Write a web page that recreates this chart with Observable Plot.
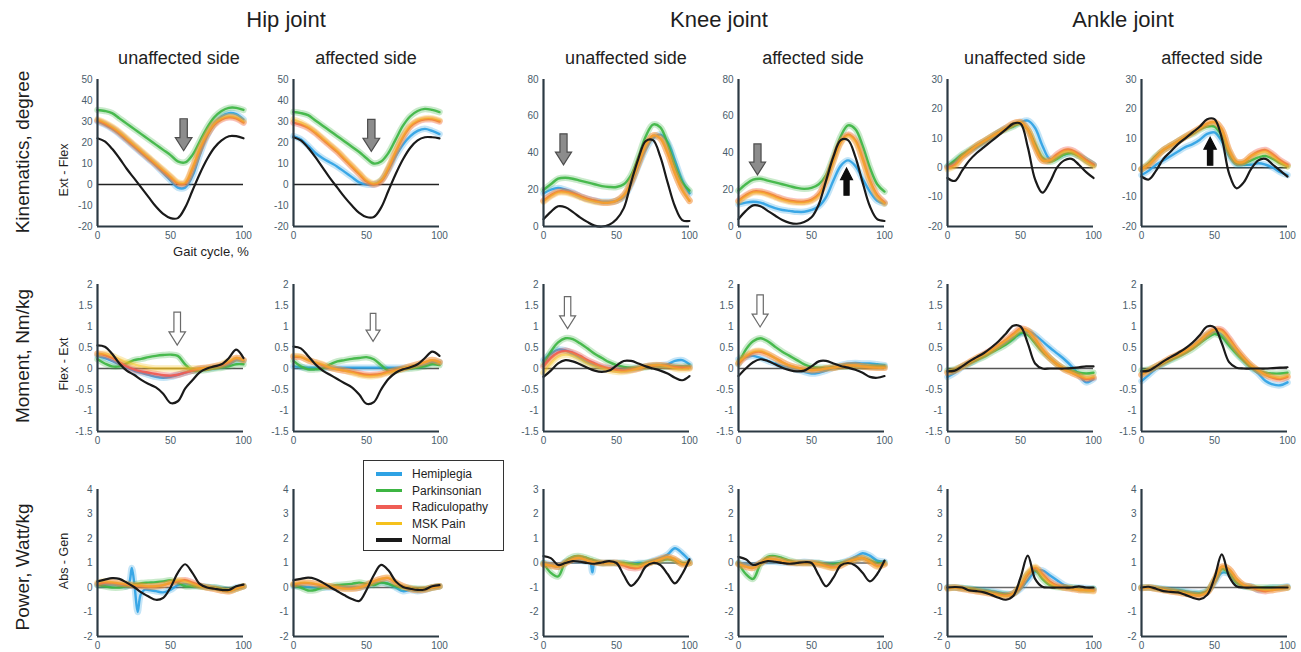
<!DOCTYPE html>
<html><head><meta charset="utf-8">
<script src="https://cdn.jsdelivr.net/npm/d3@7"></script>
<script src="https://cdn.jsdelivr.net/npm/@observablehq/plot@0.6"></script>
<style>
body{margin:0;background:#fff;}
#root{position:relative;width:1301px;height:652px;overflow:hidden;font-family:"Liberation Sans",Arial,sans-serif;color:#1e1e1e;background:#fff;}
.t{position:absolute;white-space:nowrap;line-height:1;transform:translate(-50%,-50%);}
.r{transform:translate(-50%,-50%) rotate(-90deg);}
.p{position:absolute;}
.lg{position:absolute;left:363px;top:460px;width:139px;height:89px;border:1.5px solid #333;background:#fff;}
.lr{position:absolute;left:12px;font-size:12px;line-height:1;white-space:nowrap;}
.ls{position:absolute;left:0;width:26px;height:3.5px;top:4px;}
.lt{position:absolute;left:36px;top:0;}
</style></head><body><div id="root"></div>
<script>
// ---------------- data ----------------
const SERIES = ["Hemiplegia", "Parkinsonian", "Radiculopathy", "MSK Pain", "Normal"];
const X = [0,5,10,15,20,25,30,35,40,45,50,55,60,65,70,75,80,85,90,95,100]; // gait cycle, %
const X_HIP_PWR_U_HEMI = [0,5,10,15,20,22,23.5,25.5,27.5,29.5,32,35,40,45,50,55,60,65,70,75,80,85,90,95,100];
const X_KNEE_PWR_U_HEMI = [0,5,10,15,20,25,30,32,33.5,35,40,45,50,55,60,65,70,75,80,85,90,95,100];
const X_TICKS = [0, 50, 100];

// series order: Hemiplegia, Parkinsonian, Radiculopathy, MSK Pain, Normal
const hipKinU = [
  [30,28.5,26.5,24,21,18,15,12,9,5.5,2,-1.5,-1.5,4,14,23,29,32.5,34,33.5,31],
  [35.5,35,34,31.5,29,26.5,24,21.5,19,16.5,14,11,10.5,14,20.5,27,32,35,36.5,36.5,35.5],
  [30.5,29,27,24.5,21.5,18.5,15.5,12.5,9.5,6.5,3.5,0.5,0.5,7.5,16.5,23.5,28.5,31,32,31.5,29.5],
  [31,29.5,27.5,25,22,19,16,13,10,7,4,1,1,8,17,24,29,31.5,32.5,32,30],
  [22,20.5,17,12.5,7.5,3,-1.5,-6,-10.5,-14,-16,-16,-11,-3,5,12,17.5,21,23,23,22]
];
const hipKinA = [
  [23,21.5,18.5,15,12.5,10.5,8.5,6,3.5,1,0,0,2,7,13.5,19,23,25.5,26.5,25.5,24],
  [34.5,34,33,30.5,28,25.5,23,20.5,18,15.5,12.5,10,11,15,21.5,28,32.5,35,36,35.5,34.5],
  [29.5,28.5,27,24.5,21.5,18.5,15.5,12,8.5,5,1.5,0,1.5,7.5,15.5,22.5,27.5,30,31,31,30],
  [31,29.5,27.5,25,22,19,16,12.5,9,5.5,2,0.5,2,8,16,23,28,30.5,31.5,31.5,30.5],
  [22.5,21,17.5,13,8,3,-1.5,-6,-10,-13.5,-15.5,-15.5,-11,-3,5,12,17.5,21,22.5,22.5,22]
];
const kneeKinU = [
  [18,20,21,20,18.5,16.5,15,14,13.5,13.5,14,16,23,33,42,48,50,46,36,25,18],
  [20,23,26,26.5,26,25,24,23,22,21.5,21.5,23,28,38,49,55.5,54,45,33,24,19.5],
  [14,17,19,19,18,16.5,15,14,13,13,14,17,24,34,44,49.5,48,40,29,20,14],
  [13.5,16.5,18.5,18.5,17.5,16,14.5,13.5,13,13,14,17,24,34,44,49.5,48,40,29,20,14],
  [4,8,11,10.5,8,5,2.5,0.5,0,1,4,10,24,37,46.5,47,38,24,11,3.5,3]
];
const kneeKinA = [
  [12,13,13.5,13,11.5,10,9,8.5,8,8,9,11,16,25,33,36,33,26,19,14,12.5],
  [19.5,23,25.5,26,25,24,23,22,21,20.5,21,23,28,38,49,55,53,44,32,23,19],
  [14,17,19,19,18,16.5,15,14,13.5,13.5,14.5,17.5,25,36,46,50,47,37,25,17,13],
  [13.5,16.5,18.5,18.5,17.5,16,14.5,13.5,13,13,14,17,24.5,35.5,45.5,49.5,46.5,36.5,24.5,16.5,12.5],
  [4,8.5,11.5,11,8.5,6,3.5,2,1.5,2.5,5,12,25,38,47,47,38,24,11,4,3]
];
const ankleKinU = [
  [0.5,2,4,5.5,7,8.5,10,12,13.5,14.5,15.5,16,13.5,7.5,3,3.5,4.5,5,4,2.5,1],
  [0.5,2.5,4.5,6,7.5,9,10.5,12,13,14,15,13,8,3.5,2,3,4.5,5,4,2.5,1],
  [0,1,3.5,5.5,7.5,9,10.5,12,13.5,15,15.5,13,7,2.5,2.5,4.5,6,6,4.5,2.5,1],
  [-0.5,0.5,3.5,5.5,7.5,9,10.5,12,13.5,15,15.5,13,7,2.5,2.5,4,5.5,5.5,4,2,0.5],
  [-3.5,-4.5,-1,2.5,5,7,9,11,13,15,15,7,-4,-8.5,-5,0,2.5,3,1,-1.5,-3.5]
];
const ankleKinA = [
  [-2.5,-1,1,2.5,4,5.5,7,8,9.5,11.5,12,9,4,1,1,1,1.5,1,0,-1.5,-2.5],
  [-0.5,1.5,4,6,7.5,9,10.5,11.5,13,14,14,11,5,1.5,1.5,2.5,3.5,4,3,1.5,0.5],
  [-0.5,1,3.5,6,7.5,9,10.5,12,13.5,15,15.5,13,6,2,2,4,5.5,6,4.5,2.5,1],
  [-0.5,1,3.5,6,7.5,9,10.5,12,13.5,15,15.5,13,6,2,2,4,5,5.5,4,2,0.5],
  [-3,-4,-1,3,5.5,8,10,12,14,16.5,16.5,10,-2,-7,-5,-0.5,2.5,3,1,-1,-3]
];
const hipMomU = [
  [0.3,0.25,0.18,0.1,0.02,-0.05,-0.1,-0.15,-0.2,-0.22,-0.2,-0.15,-0.1,-0.05,-0.02,0,0.02,0.05,0.1,0.2,0.18],
  [0.22,0.12,0.05,0.05,0.12,0.2,0.23,0.27,0.3,0.32,0.33,0.3,0.1,-0.05,-0.05,-0.03,0,0.02,0.05,0.1,0.1],
  [0.35,0.32,0.25,0.15,0.05,-0.02,-0.07,-0.1,-0.13,-0.16,-0.17,-0.15,-0.1,-0.05,0,0.02,0.05,0.08,0.15,0.25,0.2],
  [0.35,0.35,0.3,0.22,0.15,0.1,0.05,0.02,0,0,0,0,0,0,0,0.02,0.05,0.1,0.18,0.25,0.2],
  [0.55,0.52,0.35,0.12,-0.05,-0.15,-0.27,-0.37,-0.45,-0.6,-0.82,-0.78,-0.48,-0.28,-0.09,0,0.05,0.1,0.25,0.45,0.25]
];
const hipMomA = [
  [0.05,0.03,0.02,0.02,0.02,0.02,0.02,0.02,0.02,0.02,0.02,0.02,0.02,0.02,0.02,0.02,0.03,0.05,0.08,0.15,0.15],
  [0.18,0.05,-0.02,-0.02,0,0.1,0.17,0.2,0.23,0.25,0.27,0.22,0.08,-0.05,-0.05,-0.02,0,0.02,0.05,0.1,0.08],
  [0.28,0.27,0.2,0.14,0.08,0.02,-0.02,-0.05,-0.08,-0.12,-0.15,-0.15,-0.13,-0.08,-0.04,0,0.05,0.1,0.15,0.2,0.15],
  [0.3,0.28,0.2,0.15,0.1,0.02,-0.02,-0.05,-0.1,-0.15,-0.18,-0.18,-0.15,-0.1,-0.05,0,0.05,0.1,0.15,0.2,0.15],
  [0.52,0.48,0.3,0.1,-0.05,-0.15,-0.25,-0.35,-0.45,-0.62,-0.84,-0.8,-0.5,-0.25,-0.1,-0.02,0.03,0.1,0.25,0.4,0.3]
];
const kneeMomU = [
  [0.2,0.35,0.45,0.43,0.35,0.25,0.15,0.08,0.02,0,-0.02,-0.03,-0.02,0.02,0.05,0.07,0.08,0.1,0.18,0.2,0.1],
  [0.1,0.4,0.62,0.72,0.7,0.6,0.48,0.35,0.25,0.15,0.08,0.04,0.02,0.02,0.03,0.05,0.05,0.05,0.05,0.05,0.05],
  [0.05,0.25,0.38,0.42,0.38,0.3,0.2,0.12,0.05,0,-0.03,-0.05,-0.03,0,0.05,0.07,0.08,0.06,0.03,0.02,0.02],
  [-0.1,0.12,0.28,0.33,0.3,0.22,0.12,0.05,0,-0.05,-0.08,-0.08,-0.05,0,0.05,0.08,0.08,0.05,0,-0.02,0],
  [-0.2,-0.05,0.12,0.2,0.17,0.1,0.02,-0.05,-0.08,-0.05,0.07,0.18,0.18,0.12,0.05,0,-0.05,-0.12,-0.22,-0.28,-0.18]
];
const kneeMomA = [
  [0.22,0.27,0.3,0.25,0.18,0.12,0.06,0.02,-0.03,-0.08,-0.12,-0.1,-0.05,0.02,0.08,0.12,0.13,0.12,0.12,0.1,0.08],
  [0.1,0.45,0.65,0.72,0.65,0.52,0.4,0.3,0.2,0.1,0.04,0.02,0.02,0.03,0.04,0.05,0.05,0.05,0.05,0.05,0.05],
  [0.12,0.28,0.38,0.4,0.34,0.25,0.15,0.07,0.02,-0.02,-0.04,-0.03,0,0.02,0.05,0.07,0.07,0.05,0.03,0.02,0.02],
  [0.15,0.3,0.4,0.42,0.35,0.25,0.15,0.07,0.02,-0.02,-0.04,-0.03,0,0.02,0.05,0.07,0.07,0.05,0.03,0.02,0.02],
  [-0.18,0,0.15,0.22,0.18,0.1,0.02,-0.04,-0.07,-0.05,0.05,0.17,0.18,0.12,0.06,0.02,-0.03,-0.1,-0.2,-0.22,-0.18]
];
const ankleMomU = [
  [-0.2,-0.1,0.03,0.12,0.22,0.32,0.42,0.52,0.62,0.73,0.82,0.88,0.8,0.65,0.5,0.36,0.22,0.05,-0.15,-0.33,-0.25],
  [-0.05,-0.02,0.05,0.12,0.2,0.28,0.38,0.47,0.57,0.7,0.85,0.8,0.6,0.4,0.25,0.1,0,-0.05,-0.1,-0.12,-0.1],
  [-0.1,-0.05,0.05,0.15,0.25,0.34,0.44,0.56,0.68,0.82,0.95,0.9,0.7,0.45,0.25,0.1,-0.02,-0.1,-0.18,-0.25,-0.22],
  [-0.1,-0.05,0.05,0.15,0.25,0.33,0.43,0.55,0.67,0.8,0.93,0.9,0.7,0.45,0.25,0.1,-0.02,-0.1,-0.17,-0.22,-0.2],
  [-0.07,-0.05,0.05,0.17,0.27,0.37,0.5,0.65,0.83,1.02,1.0,0.6,0.12,0,0,0,0,0.01,0.03,0.05,0.05]
];
const ankleMomA = [
  [-0.3,-0.15,0,0.12,0.22,0.32,0.42,0.55,0.67,0.8,0.88,0.8,0.6,0.4,0.2,0.02,-0.12,-0.3,-0.38,-0.4,-0.33],
  [-0.05,-0.02,0.05,0.12,0.2,0.28,0.37,0.47,0.6,0.73,0.82,0.75,0.55,0.35,0.18,0.03,-0.05,-0.1,-0.12,-0.12,-0.1],
  [-0.15,-0.05,0.05,0.15,0.25,0.33,0.42,0.53,0.67,0.82,0.93,0.92,0.72,0.47,0.26,0.08,-0.05,-0.15,-0.22,-0.25,-0.2],
  [-0.15,-0.05,0.05,0.15,0.25,0.33,0.42,0.53,0.67,0.82,0.92,0.88,0.68,0.45,0.25,0.08,-0.05,-0.15,-0.2,-0.22,-0.18],
  [-0.07,-0.05,0.05,0.17,0.27,0.37,0.48,0.62,0.8,1.0,0.98,0.6,0.15,0.02,0,0,0,0,0.01,0.02,0.03]
];
const hipPwrU = [
  [0.1,0.12,0.12,0.1,0.05,0.25,0.8,0,-1.0,-0.3,-0.1,-0.1,-0.15,-0.2,-0.1,0.1,0.15,0.1,0.05,0.02,0,-0.05,-0.1,0,0.05],
  [0.1,0.05,0,0,0.05,0.12,0.18,0.2,0.22,0.25,0.3,0.2,0.05,0.05,0.05,0.02,0,-0.05,-0.1,-0.05,0.05],
  [0.15,0.2,0.2,0.16,0.12,0.08,0.06,0.04,0.05,0.1,0.18,0.25,0.3,0.2,0.08,0,-0.05,-0.12,-0.15,-0.05,0.05],
  [0.2,0.25,0.22,0.18,0.15,0.1,0.08,0.05,0.05,0.1,0.2,0.3,0.25,0.15,0.05,0,-0.05,-0.12,-0.15,-0.05,0.05],
  [0.25,0.32,0.38,0.35,0.2,0.02,-0.2,-0.37,-0.5,-0.42,0,0.6,0.95,0.6,0.15,0,-0.05,-0.1,-0.1,0.05,0.12]
];
const hipPwrA = [
  [0.05,0.05,0.02,0,0,0,0,0,0,0,0.05,0.15,0.2,0.15,0,-0.15,-0.1,-0.15,-0.1,0,0.05],
  [0.1,0,-0.12,-0.1,0,0.05,0.1,0.12,0.15,0.2,0.15,0.1,0.2,0.15,0.05,0,-0.02,-0.05,-0.05,0,0.05],
  [0.12,0.18,0.18,0.14,0.08,0.04,0,-0.04,-0.04,0,0.1,0.25,0.35,0.38,0.2,0.05,-0.05,-0.1,-0.08,0,0.05],
  [0.15,0.2,0.2,0.15,0.1,0.05,0,-0.05,-0.05,0,0.1,0.25,0.35,0.4,0.2,0.05,-0.05,-0.1,-0.08,0,0.05],
  [0.3,0.35,0.4,0.35,0.2,0.02,-0.15,-0.32,-0.47,-0.55,-0.1,0.5,0.92,0.7,0.25,0.02,-0.05,-0.1,-0.08,0.05,0.1]
];
const kneePwrU = [
  [0,-0.05,-0.15,0.05,0.1,0.1,0.05,0.02,-0.38,0,0,0.02,0,0,-0.05,0,0,0.1,0.2,0.35,0.6,0.4,0.1],
  [0,-0.4,-0.55,0.05,0.25,0.28,0.2,0.1,0,0,0,0,-0.05,-0.05,0,0.05,0.1,0.15,0.1,0,0],
  [-0.05,-0.1,-0.15,0,0.15,0.2,0.1,0.02,0,0,0,-0.1,-0.2,-0.2,-0.05,0.05,0.15,0.25,0.15,-0.05,0],
  [-0.05,-0.1,-0.15,0,0.15,0.2,0.1,0.02,0,0,0,-0.05,-0.1,-0.15,-0.05,0.05,0.15,0.25,0.15,-0.05,0],
  [0.28,0.2,-0.08,0,0.08,0.05,0,-0.03,0.02,0.08,0,-0.5,-0.93,-0.65,-0.15,0,-0.08,-0.45,-0.83,-0.45,0.15]
];
const kneePwrA = [
  [0,-0.05,-0.1,0,0.05,0.05,0.02,0,0,0.05,0.02,0,-0.05,-0.05,0,0.1,0.25,0.4,0.3,0.1,0.05],
  [0,-0.45,-0.65,-0.05,0.25,0.28,0.2,0.1,0.02,0,0,0,-0.05,-0.05,0,0.05,0.15,0.2,0.1,0,0],
  [-0.05,-0.15,-0.2,0,0.15,0.15,0.08,0.02,0,0,0,-0.05,-0.12,-0.18,-0.1,0.05,0.15,0.2,0.05,-0.12,-0.05],
  [-0.05,-0.15,-0.2,0,0.15,0.15,0.08,0.02,0,0,0,-0.05,-0.15,-0.2,-0.1,0.05,0.15,0.2,0.05,-0.15,-0.05],
  [0.25,0.15,-0.08,0,0.08,0.05,0,-0.03,0,0.03,0,-0.5,-0.95,-0.6,-0.1,0,-0.1,-0.4,-0.75,-0.45,0.1]
];
const anklePwrU = [
  [0,0,-0.02,-0.05,-0.08,-0.1,-0.15,-0.2,-0.25,-0.25,-0.05,0.3,0.65,0.7,0.5,0.3,0.1,0,0,-0.02,-0.05],
  [0,0,-0.02,-0.05,-0.1,-0.15,-0.2,-0.25,-0.28,-0.25,0.05,0.55,0.7,0.35,0.1,0.02,0,0,-0.05,-0.1,-0.05],
  [-0.02,0,-0.05,-0.1,-0.15,-0.2,-0.25,-0.3,-0.33,-0.25,0.05,0.55,0.8,0.55,0.25,0.08,0,-0.05,-0.1,-0.1,-0.12],
  [-0.05,0,-0.05,-0.1,-0.15,-0.2,-0.25,-0.32,-0.35,-0.25,0.1,0.6,0.85,0.5,0.2,0.05,0,-0.05,-0.1,-0.12,-0.15],
  [0,0.02,0,-0.12,-0.15,-0.2,-0.3,-0.42,-0.5,-0.35,0.4,1.3,0.35,0.03,0,0,0,0,0.05,0,0]
];
const anklePwrA = [
  [0,0,-0.02,-0.05,-0.08,-0.1,-0.15,-0.2,-0.22,-0.15,0.2,0.6,0.55,0.2,0.05,0.05,-0.1,-0.05,0,0,0.05],
  [0,0,-0.03,-0.08,-0.12,-0.15,-0.2,-0.25,-0.25,-0.15,0.3,0.75,0.6,0.2,0.05,0,0,0,0,0,0],
  [-0.02,0,-0.05,-0.1,-0.15,-0.2,-0.25,-0.3,-0.32,-0.2,0.3,0.85,0.75,0.35,0.1,0.02,-0.1,-0.15,-0.1,-0.05,0],
  [-0.02,0,-0.05,-0.1,-0.15,-0.2,-0.25,-0.3,-0.32,-0.2,0.3,0.85,0.75,0.35,0.1,0.02,-0.05,-0.1,-0.1,-0.05,0],
  [0,0.03,-0.05,-0.15,-0.18,-0.2,-0.3,-0.42,-0.48,-0.3,0.4,1.35,0.45,0.05,0,0,0,0,0,0,0]
];

// y ticks
const HIP_KIN_T = [-20,-10,0,10,20,30,40,50];
const KNEE_KIN_T = [0,20,40,60,80];
const ANKLE_KIN_T = [-20,-10,0,10,20,30];
const MOM_T = [-1.5,-1,-0.5,0,0.5,1,1.5,2];
const HIP_PWR_T = [-2,-1,0,1,2,3,4];
const KNEE_PWR_T = [-3,-2,-1,0,1,2,3];
const ANKLE_PWR_T = [-2,-1,0,1,2,3,4];

// annotation arrows (gait %, value)
const ARROWS = [
  {panel:"hipKinU", x:59, y:23.7, r:16, kind:"gray"},
  {panel:"hipKinA", x:53.3, y:23.4, r:16, kind:"gray"},
  {panel:"kneeKinU", x:13.7, y:42, r:15.5, kind:"gray"},
  {panel:"kneeKinA", x:13, y:36.5, r:15.5, kind:"gray"},
  {panel:"kneeKinA", x:74, y:24.4, r:13.5, kind:"black"},
  {panel:"ankleKinA", x:47, y:5.6, r:14, kind:"black"},
  {panel:"hipMomU", x:54.6, y:0.95, r:16.5, kind:"hollow"},
  {panel:"hipMomA", x:54.5, y:0.98, r:14, kind:"hollow"},
  {panel:"kneeMomU", x:16.5, y:1.33, r:16, kind:"hollow"},
  {panel:"kneeMomA", x:14.8, y:1.37, r:16, kind:"hollow"}
];

// ---------------- style / layout ----------------
const COLORS = ["#2ea2e4", "#3db543", "#ef5d55", "#f5c11c", "#1a1a1a"];
const LINE_OP = [0.92, 0.92, 0.95, 0.5, 1];
const BAND_OP = [0.28, 0.28, 0.38, 0.3, 0];
const AXIS_C = "#2c3a44";
const COLS = [97, 293, 543, 738, 947, 1141];
const ROWS = [79, 284, 489];
const PW = 146, PH = 147, ML = 40, MR = 12, MT = 10, MB = 24;

function blockArrow(dir, sw, hw, hb) {
  return { draw(ctx, size) {
    const h = Math.sqrt(size / Math.PI), s = dir;
    ctx.moveTo(-sw*h, -s*h); ctx.lineTo(sw*h, -s*h); ctx.lineTo(sw*h, s*hb*h);
    ctx.lineTo(hw*h, s*hb*h); ctx.lineTo(0, s*h); ctx.lineTo(-hw*h, s*hb*h);
    ctx.lineTo(-sw*h, s*hb*h); ctx.closePath();
  }};
}
const SYM = { gray: blockArrow(1, 0.23, 0.52, 0.18), hollow: blockArrow(1, 0.2, 0.5, 0.2), black: blockArrow(-1, 0.19, 0.44, 0.15) };
const FILL = { gray: "#8c8c8c", hollow: "#ffffff", black: "#0d0d0d" };
const STROKE = { gray: "#4d4d4d", hollow: "#6a6a6a", black: "#0d0d0d" };

const PANELS = [
  {key:"hipKinU", data:hipKinU, c:0, r:0, y:[-20,50], t:HIP_KIN_T, zero:"#222"},
  {key:"hipKinA", data:hipKinA, c:1, r:0, y:[-20,50], t:HIP_KIN_T, zero:"#222"},
  {key:"kneeKinU", data:kneeKinU, c:2, r:0, y:[0,80], t:KNEE_KIN_T, zero:null},
  {key:"kneeKinA", data:kneeKinA, c:3, r:0, y:[0,80], t:KNEE_KIN_T, zero:null},
  {key:"ankleKinU", data:ankleKinU, c:4, r:0, y:[-20,30], t:ANKLE_KIN_T, zero:"#333"},
  {key:"ankleKinA", data:ankleKinA, c:5, r:0, y:[-20,30], t:ANKLE_KIN_T, zero:"#333"},
  {key:"hipMomU", data:hipMomU, c:0, r:1, y:[-1.5,2], t:MOM_T, zero:"#555"},
  {key:"hipMomA", data:hipMomA, c:1, r:1, y:[-1.5,2], t:MOM_T, zero:"#555"},
  {key:"kneeMomU", data:kneeMomU, c:2, r:1, y:[-1.5,2], t:MOM_T, zero:"#555"},
  {key:"kneeMomA", data:kneeMomA, c:3, r:1, y:[-1.5,2], t:MOM_T, zero:"#555"},
  {key:"ankleMomU", data:ankleMomU, c:4, r:1, y:[-1.5,2], t:MOM_T, zero:"#555"},
  {key:"ankleMomA", data:ankleMomA, c:5, r:1, y:[-1.5,2], t:MOM_T, zero:"#555"},
  {key:"hipPwrU", data:hipPwrU, c:0, r:2, y:[-2,4], t:HIP_PWR_T, zero:"#666", xs:[X_HIP_PWR_U_HEMI]},
  {key:"hipPwrA", data:hipPwrA, c:1, r:2, y:[-2,4], t:HIP_PWR_T, zero:"#666"},
  {key:"kneePwrU", data:kneePwrU, c:2, r:2, y:[-3,3], t:KNEE_PWR_T, zero:"#666", xs:[X_KNEE_PWR_U_HEMI]},
  {key:"kneePwrA", data:kneePwrA, c:3, r:2, y:[-3,3], t:KNEE_PWR_T, zero:"#666"},
  {key:"anklePwrU", data:anklePwrU, c:4, r:2, y:[-2,4], t:ANKLE_PWR_T, zero:"#666"},
  {key:"anklePwrA", data:anklePwrA, c:5, r:2, y:[-2,4], t:ANKLE_PWR_T, zero:"#666"}
];

function panelPlot(p) {
  const rows = [];
  p.data.forEach((vals, i) => {
    const xs = (p.xs && p.xs[i]) || X;
    vals.forEach((v, j) => rows.push({x: xs[j], y: v, s: SERIES[i]}));
  });
  const marks = [];
  if (p.zero) marks.push(Plot.ruleY([0], {stroke: p.zero, strokeWidth: 1.4}));
  SERIES.forEach((name, i) => {
    const d = rows.filter(r => r.s === name);
    if (BAND_OP[i] > 0) marks.push(Plot.line(d, {x: "x", y: "y", stroke: COLORS[i], strokeWidth: 6.5, strokeOpacity: BAND_OP[i], curve: "catmull-rom"}));
    marks.push(Plot.line(d, {x: "x", y: "y", stroke: COLORS[i], strokeWidth: i === 4 ? 2.2 : 2.4, strokeOpacity: LINE_OP[i], curve: "catmull-rom"}));
  });
  marks.push(Plot.ruleX([0], {stroke: AXIS_C, strokeWidth: 2.2}));
  marks.push(Plot.ruleY([p.y[0]], {stroke: AXIS_C, strokeWidth: 2.2}));
  ARROWS.filter(a => a.panel === p.key).forEach(a => {
    marks.push(Plot.dot([a], {x: "x", y: "y", r: a.r, symbol: SYM[a.kind], fill: FILL[a.kind], stroke: STROKE[a.kind], strokeWidth: 1.2}));
  });
  return Plot.plot({
    width: PW + ML + MR, height: PH + MT + MB,
    marginLeft: ML, marginRight: MR, marginTop: MT, marginBottom: MB,
    x: {domain: [0, 100], ticks: X_TICKS, tickSize: 0, tickPadding: 5, label: null, tickFormat: d => String(d)},
    y: {domain: p.y, ticks: p.t, tickSize: 0, tickPadding: 5, label: null, tickFormat: d => String(d)},
    style: {fontFamily: "'Liberation Sans', Arial, sans-serif", fontSize: "10px", color: "#4a5d6b", background: "transparent", overflow: "visible"},
    marks
  });
}

const root = document.getElementById("root");
PANELS.forEach(p => {
  const svg = panelPlot(p);
  const wrap = document.createElement("div");
  wrap.className = "p";
  wrap.style.left = (COLS[p.c] - ML) + "px";
  wrap.style.top = (ROWS[p.r] - MT) + "px";
  wrap.appendChild(svg);
  root.appendChild(wrap);
});

function addText(txt, x, y, size, rotate) {
  const d = document.createElement("div");
  d.className = "t" + (rotate ? " r" : "");
  d.textContent = txt;
  d.style.left = x + "px"; d.style.top = y + "px"; d.style.fontSize = size + "px";
  root.appendChild(d);
}
addText("Hip joint", 286, 20, 22);
addText("Knee joint", 719, 20, 22);
addText("Ankle joint", 1123, 20, 22);
[[179,"unaffected side"],[366,"affected side"],[626,"unaffected side"],[813,"affected side"],[1025,"unaffected side"],[1212,"affected side"]]
  .forEach(([x, t]) => addText(t, x, 58, 18));
addText("Kinematics, degree", 22, 152, 19, true);
addText("Moment, Nm/kg", 22, 356, 19, true);
addText("Power, Watt/kg", 22, 567, 19, true);
addText("Ext - Flex", 64, 170, 12.5, true);
addText("Flex - Ext", 64, 364, 12.5, true);
addText("Abs - Gen", 64, 561, 12.5, true);
addText("Gait cycle, %", 211, 251, 13);

// legend
const lg = document.createElement("div");
lg.className = "lg";
SERIES.forEach((name, i) => {
  const row = document.createElement("div");
  row.className = "lr";
  row.style.top = (7 + i * 16.5) + "px";
  const sw = document.createElement("div");
  sw.className = "ls"; sw.style.background = COLORS[i];
  const tx = document.createElement("div");
  tx.className = "lt"; tx.textContent = name;
  row.appendChild(sw); row.appendChild(tx);
  lg.appendChild(row);
});
root.appendChild(lg);
</script></body></html>
